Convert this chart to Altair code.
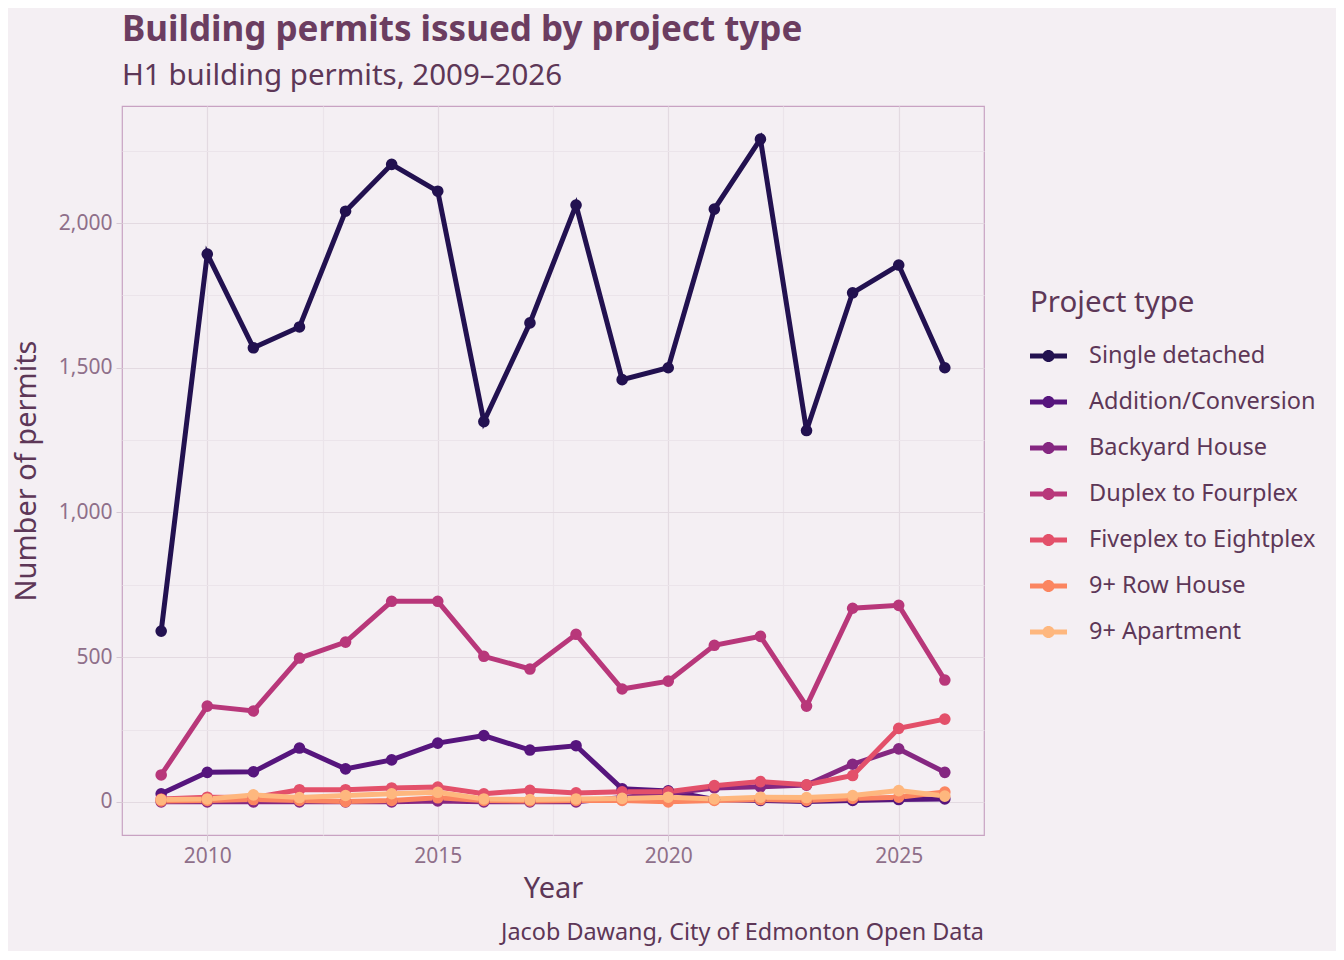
import altair as alt
import pandas as pd

years = list(range(2009, 2027))
series_names = ["Single detached", "Addition/Conversion", "Backyard House",
                "Duplex to Fourplex", "Fiveplex to Eightplex", "9+ Row House", "9+ Apartment"]
single = [590, 1893, 1569, 1641, 2041, 2203, 2110, 1314, 1655, 2062, 1459, 1500, 2048, 2290, 1283, 1759, 1855, 1500]
addition = [28, 102, 104, 186, 114, 145, 203, 229, 179, 194, 45, 38, 8, 5, 1, 5, 8, 10]
backyard = [0, 0, 0, 0, 0, 0, 3, 0, 0, 0, 15, 30, 48, 52, 58, 130, 183, 102]
duplex = [93, 331, 314, 497, 552, 693, 693, 503, 459, 579, 390, 417, 541, 572, 331, 669, 679, 421]
fiveplex = [10, 16, 15, 42, 42, 48, 51, 28, 40, 31, 35, 35, 56, 70, 59, 91, 254, 286]
row_house = [3, 5, 8, 5, 1, 5, 14, 5, 3, 5, 5, 0, 5, 8, 5, 12, 16, 34]
apartment = [8, 10, 24, 15, 22, 28, 33, 10, 8, 10, 12, 16, 10, 16, 15, 22, 39, 20]
colors = ["#221150", "#56157d", "#852781", "#b8377a", "#e3506a", "#fb8560", "#feb77e"]

x_ticks = [2010, 2012.5, 2015, 2017.5, 2020, 2022.5, 2025]
y_ticks = [0, 250, 500, 750, 1000, 1250, 1500, 1750, 2000, 2250]

series_values = [single, addition, backyard, duplex, fiveplex, row_house, apartment]
rows = []
for name, vals in zip(series_names, series_values):
    for yr, v in zip(years, vals):
        rows.append({"year": yr, "permits": v, "type": name})
df = pd.DataFrame(rows)

bg = "#f4eff3"
text_dark = "#5d3757"
text_title = "#6b3d60"
text_axis = "#8f6f8a"

color_scale = alt.Scale(domain=series_names, range=colors)
legend_path = ("M-1,-0.13H1V0.13H-1Z "
               "M0.33,0A0.33,0.33,0,1,1,-0.33,0A0.33,0.33,0,1,1,0.33,0Z")

x_enc = alt.X("year:Q", scale=alt.Scale(domain=[2008.15, 2026.85], nice=False, zero=False),
              axis=alt.Axis(values=x_ticks, title="Year",
                            labelExpr="datum.value % 5 === 0 ? datum.value : ''",
                            tickOpacity={"condition": {"test": "datum.value % 5 === 0", "value": 1}, "value": 0},
                            gridColor={"condition": {"test": "datum.value % 5 === 0", "value": "#e3dae1"}, "value": "#ebe4ea"}))
y_enc = alt.Y("permits:Q", scale=alt.Scale(domain=[-114.5, 2404.5], nice=False, zero=False),
              axis=alt.Axis(values=y_ticks, title="Number of permits",
                            labelExpr="datum.value % 500 === 0 ? format(datum.value, ',') : ''",
                            tickOpacity={"condition": {"test": "datum.value % 500 === 0", "value": 1}, "value": 0},
                            gridColor={"condition": {"test": "datum.value % 500 === 0", "value": "#e3dae1"}, "value": "#ebe4ea"}))

lines = alt.Chart(df).mark_line(strokeWidth=5).encode(
    x=x_enc, y=y_enc,
    color=alt.Color("type:N", scale=color_scale, sort=series_names,
                    legend=alt.Legend(title="Project type", symbolType=legend_path, symbolSize=1369,
                                      symbolStrokeWidth=0, orient="none", legendX=908, legendY=183,
                                      labelFontSize=23.5, titleFontSize=29.5, titleFontWeight="normal",
                                      labelColor=text_dark, titleColor=text_dark, labelOffset=22,
                                      labelLimit=0, rowPadding=16, titlePadding=19,
                                      labelFont="Noto Sans", titleFont="Noto Sans")),
)
points = alt.Chart(df).mark_point(filled=True, size=135, opacity=1).encode(
    x="year:Q", y="permits:Q",
    color=alt.Color("type:N", scale=color_scale, sort=series_names),
)
caption = alt.Chart(pd.DataFrame({"t": ["Jacob Dawang, City of Edmonton Open Data"]})).mark_text(
    align="right", baseline="alphabetic", fontSize=23.4, font="Noto Sans", color=text_dark
).encode(x=alt.value(862), y=alt.value(834), text="t:N")

chart = alt.layer(lines, points, caption).properties(
    width=862, height=729,
    padding={"left": 114, "top": 98, "right": 352, "bottom": 116},
    autosize=alt.AutoSizeParams(type="none"),
    background=bg,
    title=alt.TitleParams("Building permits issued by project type",
                          subtitle="H1 building permits, 2009–2026",
                          anchor="start", frame="group", fontSize=35, fontWeight="bold",
                          font="Noto Sans", color=text_title, subtitleFont="Noto Sans",
                          subtitleFontSize=29.5, subtitleColor=text_dark, subtitlePadding=14, offset=16),
).configure_view(stroke="#c8a2c2", strokeWidth=1.2, fill=bg).configure_axis(
    domain=False, labelFont="Noto Sans", titleFont="Noto Sans", labelFontSize=21, titleFontSize=29,
    labelColor=text_axis, titleColor=text_dark, titleFontWeight="normal", tickColor="#d6c9d3",
    tickSize=6, labelPadding=4, gridWidth=1.2
).configure_axisY(titlePadding=17).configure_axisX(titlePadding=8)

chart.save("out.html", embed_options={"renderer": "svg", "actions": False})
